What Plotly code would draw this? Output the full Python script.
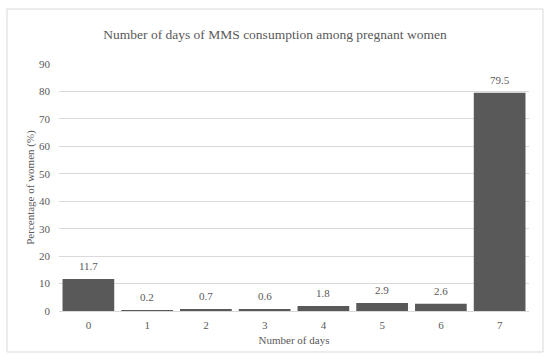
import plotly.graph_objects as go

days = ["0", "1", "2", "3", "4", "5", "6", "7"]
percent = [11.7, 0.2, 0.7, 0.6, 1.8, 2.9, 2.6, 79.5]
labels = ["11.7", "0.2", "0.7", "0.6", "1.8", "2.9", "2.6", "79.5"]
y_ticks = [0, 10, 20, 30, 40, 50, 60, 70, 80, 90]

FONT = "Liberation Serif, Times New Roman, serif"
TXT = "#595959"
GRID = "#d9d9d9"

fig = go.Figure(go.Bar(
    x=days, y=percent,
    marker=dict(color="#595959", line=dict(width=0)),
    cliponaxis=False, width=0.88, hoverinfo="x+y",
))

for d, v, t in zip(days, percent, labels):
    fig.add_annotation(x=d, y=v, text=t, showarrow=False, yanchor="bottom",
                       yshift=5, font=dict(family=FONT, size=11, color=TXT))

L, R, T, B = 59, 21, 64, 49
W, H = 550, 360
pw, ph = W - L - R, H - T - B

fig.update_layout(
    width=W, height=H,
    margin=dict(l=L, r=R, t=T, b=B, autoexpand=False),
    paper_bgcolor="white", plot_bgcolor="white",
    font=dict(family=FONT, size=11, color=TXT),
    title=dict(text="Number of days of MMS consumption among pregnant women",
               x=0.5, xanchor="center", y=1 - 34 / H, yanchor="middle",
               font=dict(family=FONT, size=13.5, color=TXT)),
    showlegend=False,
    bargap=0.12,
    xaxis=dict(title=dict(text="Number of days", standoff=6,
                          font=dict(family=FONT, size=11, color=TXT)),
               showgrid=False, showline=False, zeroline=False,
               ticks="", tickfont=dict(family=FONT, size=11, color=TXT),
               ticklabelstandoff=6),
    yaxis=dict(title=dict(text="Percentage of women (%)", standoff=2,
                          font=dict(family=FONT, size=11, color=TXT)),
               range=[0, 90], tickvals=y_ticks, ticktext=[str(v) for v in y_ticks],
               showgrid=True, gridcolor=GRID, gridwidth=1,
               zeroline=True, zerolinecolor=GRID, zerolinewidth=1,
               showline=False, ticks="",
               tickfont=dict(family=FONT, size=11, color=TXT),
               ticklabelstandoff=8),
    shapes=[dict(type="rect", xref="paper", yref="paper",
                 x0=(7 - L) / pw, x1=(543 - L) / pw,
                 y0=(H - B - 352) / ph, y1=(H - B - 9) / ph,
                 line=dict(color=GRID, width=1), fillcolor="rgba(0,0,0,0)",
                 layer="below")],
)

fig.write_html("out.html", config={"displayModeBar": False},
               post_script="document.body.style.margin='0';document.body.style.padding='0';")
